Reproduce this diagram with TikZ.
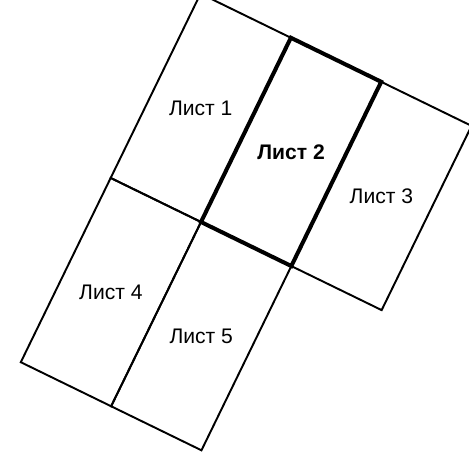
\documentclass[tikz,border=0pt]{standalone}
\usepackage{fontspec}
\setmainfont{Liberation Sans}
\tikzset{
    sheet/.style={line width=1.1pt},
    current/.style={line width=2.3pt},
    sheetname/.style={font=\fontsize{12pt}{14pt}\selectfont}
}
\begin{document}
\begin{tikzpicture}
        % Picture frame
        \useasboundingbox (0,0) rectangle (9.38,-9.4);
        \clip (0,0) rectangle (9.38,-9.4);

        \begin{scope}[shift={(4.02,-4.44)}, rotate=-26, x=2.01cm, y=2.05cm]
            % Draw sheets
            \draw[sheet] (-1,0) rectangle (0,2);
            \draw[sheet] (1,0) rectangle (2,2);
            \draw[sheet] (-1,-2) rectangle (0,0);
            \draw[sheet] (0,-2) rectangle (1,0);
            \draw[current] (0,0) rectangle (1,2);

            % Add names
            \node[sheetname] (s1) at (-0.5,1) {Лист 1};
            \node[sheetname, font=\fontsize{12pt}{14pt}\selectfont\bfseries] (s2) at (0.5,1) {Лист 2};
            \node[sheetname] (s3) at (1.5,1) {Лист 3};
            \node[sheetname] (s4) at (-0.5,-1) {Лист 4};
            \node[sheetname] (s5) at (0.5,-1) {Лист 5};
        \end{scope}
    \end{tikzpicture}
\end{document}
